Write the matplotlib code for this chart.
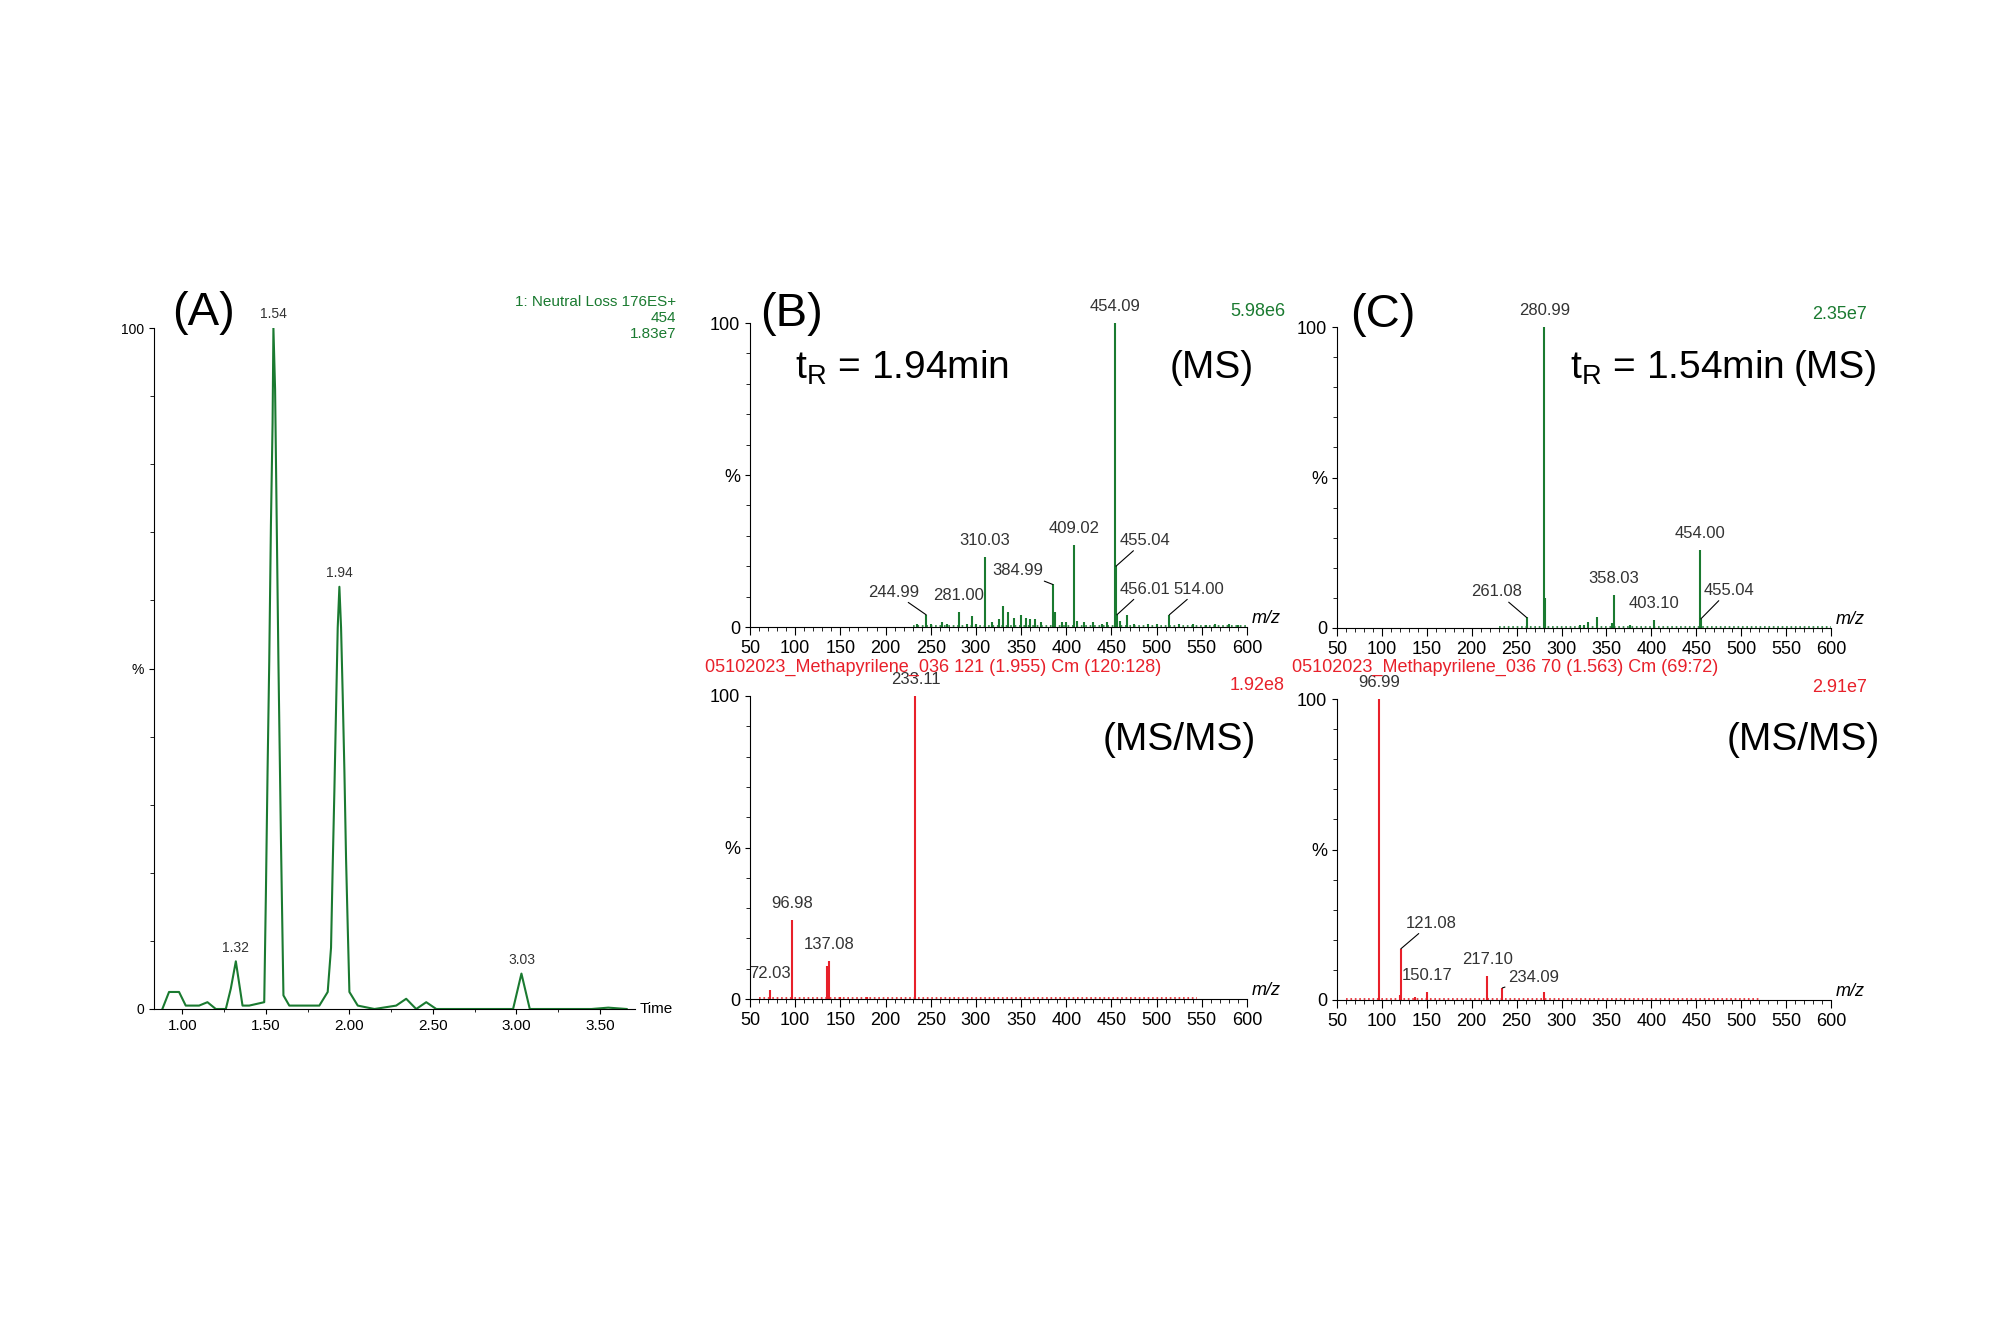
import matplotlib.pyplot as plt
from matplotlib.ticker import MultipleLocator, FixedLocator

plt.rcParams['font.family'] = ['Liberation Sans', 'DejaVu Sans']

GREEN = '#1a7a30'
RED = '#e8202a'
W, H = 2000, 1333

# chromatogram (A)
chrom_time = [0.88, 0.92, 0.98, 1.02, 1.10, 1.15, 1.20, 1.26, 1.29, 1.32, 1.36, 1.40, 1.49, 1.50,
              1.51, 1.52, 1.53, 1.54, 1.545, 1.555, 1.565, 1.575, 1.59, 1.605, 1.64, 1.70, 1.82,
              1.87, 1.89, 1.90, 1.91, 1.92, 1.93, 1.94, 1.95, 1.96, 1.97, 1.98, 1.99, 2.00, 2.05,
              2.15, 2.28, 2.34, 2.40, 2.46, 2.52, 2.80, 2.98, 3.03, 3.08, 3.25, 3.45, 3.55, 3.66]
chrom_int = [0, 2.5, 2.5, 0.5, 0.5, 1, 0, 0, 3, 7, 0.5, 0.5, 1, 17,
             35, 51, 71, 86, 100, 91, 71, 51, 25, 2, 0.5, 0.5, 0.5,
             2.5, 9, 21, 32, 44, 56, 62, 56, 46, 35, 22, 12, 2.5, 0.5,
             0, 0.5, 1.5, 0, 1, 0, 0, 0, 5.2, 0, 0, 0, 0.2, 0]
chrom_labels = [(1.32, 7, '1.32'), (1.545, 100, '1.54'), (1.94, 62, '1.94'), (3.03, 5.2, '3.03')]

# (B) MS at 1.94 min
b_ms_mz = [235, 244.99, 250, 262, 268, 281.00, 290, 296, 300, 310.03, 318, 325, 330, 335, 342, 350,
           355, 360, 365, 372, 384.99, 388, 395, 400, 409.02, 412, 420, 430, 440, 445, 454.09, 455.04,
           456.01, 460, 467, 475, 490, 500, 514.00, 525, 540, 555, 565, 580, 590]
b_ms_int = [1, 4, 1, 1.5, 1, 5, 1, 3.5, 1, 23, 1.5, 2.5, 7, 5, 3, 4,
            3, 2.5, 2.5, 1.5, 14, 5, 1.5, 1.5, 27, 2, 1.5, 1.5, 1, 1.5, 100, 20,
            4, 2, 4, 1, 1, 1, 4, 1, 1, 0.5, 1, 1, 0.5]
b_ms_labels = [('454.09', 454.09, 100, 0, 3), ('409.02', 409.02, 27, 0, 3), ('310.03', 310.03, 23, 0, 3),
               ('384.99', 384.99, 14, -10, 2), ('244.99', 244.99, 4, -8, 5), ('281.00', 281.00, 5, 0, 3),
               ('455.04', 455.04, 20, 4, 6), ('456.01', 456.01, 4, 3, 6), ('514.00', 514.00, 4, 5, 6)]
b_ms_base = [230, 600]

# (B) MS/MS
b_msms_mz = [72.03, 96.98, 135, 137.08, 150, 180, 233.11]
b_msms_int = [3, 26, 11, 12.5, 0.8, 0.5, 100]
b_msms_labels = [('72.03', 72.03, 3, 0, 3), ('96.98', 96.98, 26, 0, 3), ('137.08', 137.08, 12.5, 0, 3),
                 ('233.11', 233.11, 100, 0, 3)]
b_msms_base = [60, 545]

# (C) MS at 1.54 min
c_ms_mz = [261.08, 280.99, 282, 320, 325, 330, 340, 356, 358.03, 376, 403.10, 454.00, 455.04]
c_ms_int = [3.5, 100, 10, 1, 1, 2, 3.5, 1.5, 11, 1, 2.5, 26, 3]
c_ms_labels = [('280.99', 280.99, 100, 0, 3), ('261.08', 261.08, 3.5, -5, 6), ('358.03', 358.03, 11, 0, 3),
               ('403.10', 403.10, 2.5, 0, 3), ('454.00', 454.00, 26, 0, 3), ('455.04', 455.04, 3, 3, 7)]
c_ms_base = [230, 600]

# (C) MS/MS
c_msms_mz = [96.99, 120, 121.08, 137, 150.17, 217.10, 234.09, 280]
c_msms_int = [100, 1.5, 17, 1, 2.5, 8, 4, 2.5]
c_msms_labels = [('96.99', 96.99, 100, 0, 3), ('121.08', 121.08, 17, 5, 6), ('150.17', 150.17, 2.5, 0, 3),
                 ('217.10', 217.10, 8, 0, 3), ('234.09', 234.09, 4, 6, 1)]
c_msms_base = [60, 520]


def px_rect(x0, y0, x1, y1):
    return [x0 / W, 1 - y1 / H, (x1 - x0) / W, (y1 - y0) / H]


def ftext(x, y, s, **kw):
    fig.text(x / W, 1 - y / H, s, **kw)


def style_axes(ax, fs):
    for s in ['top', 'right']:
        ax.spines[s].set_visible(False)
    ax.set_ylim(0, 100)
    ax.yaxis.set_major_locator(FixedLocator([0, 50, 100]))
    ax.set_yticklabels(['0', '%', '100'], fontsize=fs)
    ax.yaxis.set_minor_locator(MultipleLocator(10))
    ax.tick_params(axis='y', which='minor', length=3)


def spectrum(ax, mz, inten, labels, base, color):
    ax.vlines(mz, 0, inten, color=color, lw=1.5)
    ax.plot(base, [0.4, 0.4], color=color, lw=1.2, ls=':')
    ax.set_xlim(50, 600)
    ax.xaxis.set_major_locator(MultipleLocator(50))
    ax.xaxis.set_minor_locator(MultipleLocator(10))
    ax.tick_params(axis='x', labelsize=13, length=6)
    ax.tick_params(axis='x', which='minor', length=3)
    style_axes(ax, 13)
    ax.text(1.01, 0.0, 'm/z', transform=ax.transAxes, fontsize=13, style='italic', va='bottom')
    for s, x, y, dx, dy in labels:
        if dx == 0:
            ax.text(x, y + dy, s, ha='center', va='bottom', fontsize=12, color='#333333', clip_on=False)
        else:
            ax.annotate(s, xy=(x, y), xytext=(x + dx, y + dy), ha='left' if dx > 0 else 'right',
                        va='bottom', fontsize=12, color='#333333',
                        arrowprops=dict(arrowstyle='-', lw=0.8, color='black', shrinkA=0, shrinkB=0))


fig = plt.figure(figsize=(20, 13.33), dpi=100)

# (A)
axA = fig.add_axes(px_rect(154, 328, 635, 1009))
axA.plot(chrom_time, chrom_int, color=GREEN, lw=1.5)
axA.set_xlim(0.83, 3.71)
axA.xaxis.set_major_locator(MultipleLocator(0.5))
axA.xaxis.set_minor_locator(MultipleLocator(0.25))
axA.xaxis.set_major_formatter(plt.FormatStrFormatter('%.2f'))
axA.tick_params(axis='x', labelsize=11)
style_axes(axA, 10)
for x, y, s in chrom_labels:
    axA.text(x, y + 1, s, ha='center', va='bottom', fontsize=10, color='#333333', clip_on=False)
axA.text(1.01, 0.0, 'Time', transform=axA.transAxes, fontsize=11, va='center')
ftext(676, 318, '1: Neutral Loss 176ES+\n454\n1.83e7', ha='right', va='center', fontsize=11,
      color=GREEN, linespacing=1.15)
ftext(172, 313, '(A)', fontsize=34, va='center')

# (B)
axB1 = fig.add_axes(px_rect(750, 323, 1247, 627))
spectrum(axB1, b_ms_mz, b_ms_int, b_ms_labels, b_ms_base, GREEN)
axB2 = fig.add_axes(px_rect(750, 696, 1247, 999))
spectrum(axB2, b_msms_mz, b_msms_int, b_msms_labels, b_msms_base, RED)
ftext(760, 314, '(B)', fontsize=34, va='center')
ftext(795, 368, r'$\mathregular{t_R}$ = 1.94min', fontsize=28, va='center')
ftext(1254, 368, '(MS)', fontsize=28, va='center', ha='right')
ftext(1285, 311, '5.98e6', fontsize=13, color=GREEN, ha='right', va='center')
ftext(705, 667, '05102023_Methapyrilene_036 121 (1.955) Cm (120:128)', fontsize=13, color=RED, va='center')
ftext(1285, 686, '1.92e8', fontsize=13, color=RED, ha='right', va='center')
ftext(1256, 740, '(MS/MS)', fontsize=28, va='center', ha='right')

# (C)
axC1 = fig.add_axes(px_rect(1337, 327, 1831, 628))
spectrum(axC1, c_ms_mz, c_ms_int, c_ms_labels, c_ms_base, GREEN)
axC2 = fig.add_axes(px_rect(1337, 699, 1831, 1000))
spectrum(axC2, c_msms_mz, c_msms_int, c_msms_labels, c_msms_base, RED)
ftext(1350, 315, '(C)', fontsize=34, va='center')
ftext(1570, 368, r'$\mathregular{t_R}$ = 1.54min', fontsize=28, va='center')
ftext(1878, 368, '(MS)', fontsize=28, va='center', ha='right')
ftext(1867, 315, '2.35e7', fontsize=13, color=GREEN, ha='right', va='center')
ftext(1292, 667, '05102023_Methapyrilene_036 70 (1.563) Cm (69:72)', fontsize=13, color=RED, va='center')
ftext(1867, 688, '2.91e7', fontsize=13, color=RED, ha='right', va='center')
ftext(1880, 740, '(MS/MS)', fontsize=28, va='center', ha='right')

fig.savefig('out.png', dpi=100)
